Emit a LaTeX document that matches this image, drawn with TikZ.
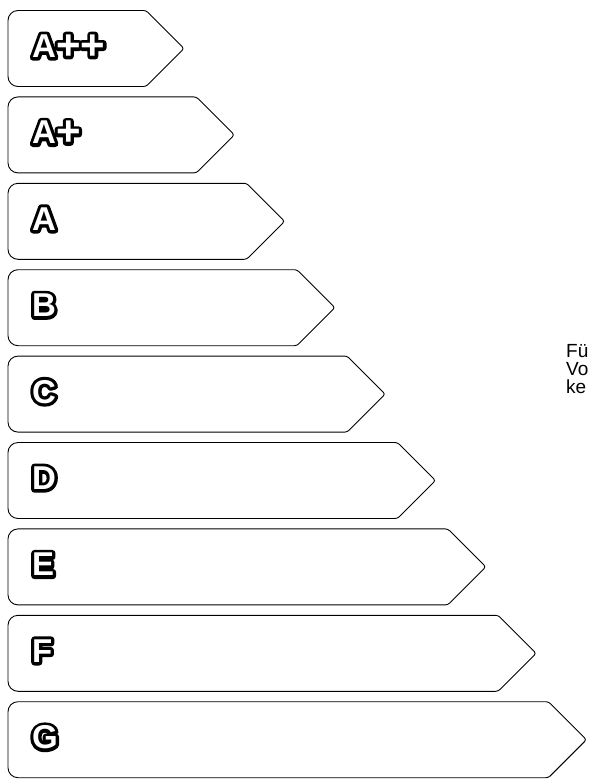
\documentclass[tikz,border=0pt]{standalone}
\usepackage{fontspec}
\setmainfont{Liberation Sans}

% white letters with a thick black rim: a stroked black layer (PDF text
% render mode 2) under a plain white layer of the same letters
\newcommand\rimtext[1]{%
  \rlap{\special{pdf:literal direct 2 Tr 6.4 w 1 j 0 G 0 g}#1%
        \special{pdf:literal direct 0 Tr 0 g 0 G}}%
  \textcolor{white}{#1}}
% the large plus sign of the class badges
\newcommand\bigplus{{\fontsize{42}{42}\selectfont\raisebox{-2pt}{+}}}

\tikzset{
  classbox/.style={draw=black, line width=0.9pt},
  badge/.style={anchor=base west, inner sep=0pt,
    font=\fontsize{33}{33}\selectfont\bfseries},
  sidetext/.style={anchor=base west, inner sep=0pt,
    font=\fontsize{19}{19}\selectfont}
}

\begin{document}
\begin{tikzpicture}[x=1pt, y=-1pt]
\fill[white] (0,0) rectangle (589,780);
\useasboundingbox (0,0) rectangle (589,780);

\foreach \i/\t/\n in {0/{A\bigplus\bigplus}/app, 1/{A\bigplus}/ap, 2/A/a,
                      3/B/b, 4/C/c, 5/D/d, 6/E/e, 7/F/f, 8/G/g}{
  \pgfmathsetmacro\yt{10.5+86.4*\i}
  \pgfmathsetmacro\yb{\yt+76}
  \pgfmathsetmacro\ym{\yt+38}
  \pgfmathsetmacro\xt{184+50.3*\i}
  \pgfmathsetmacro\xc{\xt-38}
  % arrow-shaped class bar
  \draw[classbox] (60,\yt) [rounded corners=2.5] -- (\xc,\yt) -- (\xt,\ym)
      -- (\xc,\yb) [rounded corners=10] -- (8,\yb) -- (8,\yt) -- cycle;
  % class letter
  \node[badge] (cls-\n) at (32,\ym+9) {\rimtext{\t}};
}

\node[sidetext] (line1) at (566,357) {Fü};
\node[sidetext] (line2) at (566,375) {Vo};
\node[sidetext] (line3) at (566,393) {ke};
\end{tikzpicture}
\end{document}
